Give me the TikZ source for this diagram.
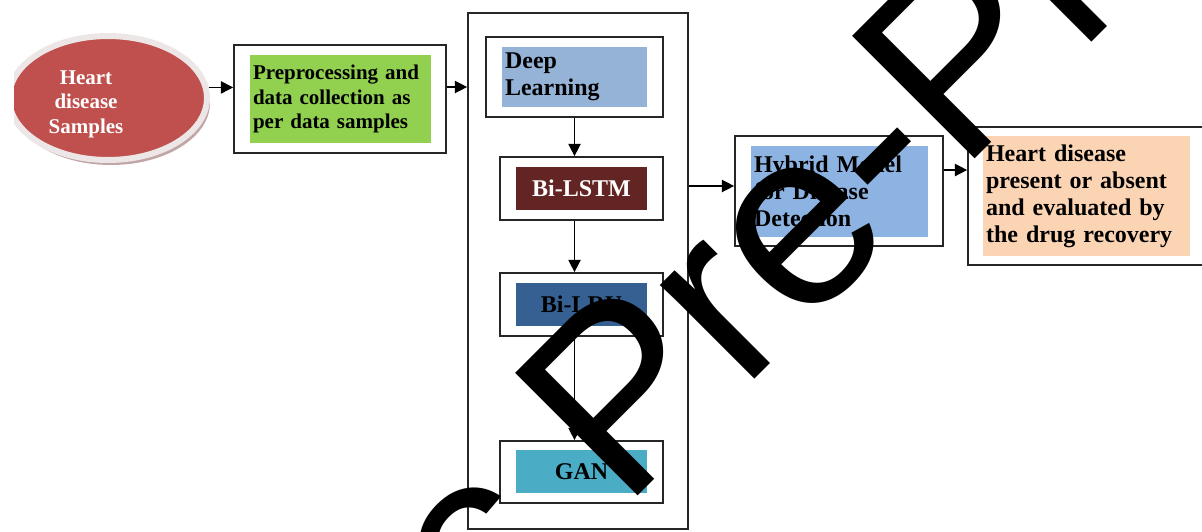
\documentclass[tikz,border=0pt]{standalone}
\usepackage{fontspec}
\setmainfont{Liberation Serif}
\newfontfamily\wmfont{Liberation Sans}
\usetikzlibrary{arrows.meta,shapes.geometric,shadows}
\definecolor{samplered}{HTML}{C0504D}
\definecolor{ringgray}{HTML}{ECE6E6}
\definecolor{shadowred}{HTML}{A88080}
\definecolor{prepgreen}{HTML}{92D050}
\definecolor{deepblue}{HTML}{95B3D7}
\definecolor{lstmred}{HTML}{632523}
\definecolor{lrublue}{HTML}{366092}
\definecolor{ganteal}{HTML}{4BACC6}
\definecolor{hybblue}{HTML}{8DB3E2}
\definecolor{respeach}{HTML}{FBD4B4}

\begin{document}
\begin{tikzpicture}[x=0.02cm,y=-0.02cm,
    box/.style={draw=black!85,line width=1pt,rectangle,inner sep=0pt},
    tag/.style={rectangle,inner sep=0.06cm,align=left,
        font=\bfseries\fontsize{13.66}{15.4}\selectfont},
    sample/.style={ellipse,fill=samplered,draw=ringgray,line width=0.12cm,
        minimum width=3.96cm,minimum height=2.48cm,
        drop shadow={shadow xshift=0.06cm,shadow yshift=-0.1cm,fill=shadowred,opacity=0.7}},
    arr/.style={draw,line width=0.8pt,-{Triangle[length=7pt,width=7pt]}}]
        \useasboundingbox (0,0) rectangle (1202,531);
        \clip (0,0) rectangle (1202,531);

        % input samples
        \begin{scope}
            \clip (14,0) rectangle (300,200);
            \node[sample] (s) at (108,98) {};
        \end{scope}
        \node[text=white,align=center,font=\bfseries\fontsize{11.95}{13.9}\selectfont] (st) at (86,104) {Heart\\disease\\Samples};

        % preprocessing
        \node[box,minimum width=4.24cm,minimum height=2.16cm] (pp) at (340,99) {};
        \node[tag,fill=prepgreen,minimum width=3.62cm,minimum height=1.76cm,text width=3.5cm,
            font=\bfseries\fontsize{11.95}{13.9}\selectfont] (ppt) at (340.5,99) {Preprocessing and\\data collection as\\per data samples};

        % deep learning block
        \node[box,minimum width=4.4cm,minimum height=10.32cm] (big) at (578,271) {};
        \node[box,minimum width=3.54cm,minimum height=1.6cm] (dlb) at (574.5,77) {};
        \node[tag,fill=deepblue,minimum width=2.9cm,minimum height=1.2cm,text width=2.78cm] (dl) at (574.5,77) {Deep\\Learning};
        \node[box,minimum width=3.26cm,minimum height=1.26cm] (lsb) at (581.5,188.5) {};
        \node[tag,fill=lstmred,text=white,minimum width=2.62cm,minimum height=0.86cm,align=center] (ls) at (581.5,188.5) {Bi-LSTM};
        \node[box,minimum width=3.26cm,minimum height=1.26cm] (lrb) at (581.5,304.5) {};
        \node[tag,fill=lrublue,minimum width=2.62cm,minimum height=0.86cm,align=center] (lr) at (581.5,304.5) {Bi-LRU};
        \node[box,minimum width=3.26cm,minimum height=1.24cm] (gnb) at (581.5,472) {};
        \node[tag,fill=ganteal,minimum width=2.62cm,minimum height=0.86cm,align=center] (gn) at (581.5,471.5) {GAN};

        % hybrid model and result
        \node[box,minimum width=4.16cm,minimum height=2.2cm] (hyb) at (839,191) {};
        \node[tag,fill=hybblue,minimum width=3.54cm,minimum height=1.82cm,text width=3.42cm] (hy) at (839.5,191.5) {Hybrid Model\\for Disease\\Detection};
        \node[box,minimum width=4.94cm,minimum height=2.76cm] (rsb) at (1091.5,196) {};
        \node[tag,fill=respeach,minimum width=4.14cm,minimum height=2.4cm,text width=4.02cm] (rs) at (1086.5,196) {Heart disease\\present or absent\\and evaluated by\\the drug recovery};

        \draw[arr] (s.6) -- (s.6 -| pp.west);
        \coordinate (pa) at ([yshift=0.24cm]pp.east);
        \draw[arr] (pa) -- (pa -| big.west);
        \draw[arr] (dlb.south) -- (dlb.south |- lsb.north);
        \draw[arr] (dlb.south |- lsb.south) -- (dlb.south |- lrb.north);
        \draw[arr] (dlb.south |- lrb.south) -- (dlb.south |- gnb.north);
        \coordinate (ha) at ([yshift=0.1cm]hyb.west);
        \draw[arr] (ha -| big.east) -- (ha);
        \coordinate (hb) at ([yshift=0.42cm]hyb.east);
        \draw[arr] (hb) -- (hb -| rsb.west);

        % watermark
        \node[rotate=45,anchor=base west,inner sep=0pt,font=\wmfont\fontsize{143.4}{150}\selectfont] (wm) at (485,649) {c Pre-Proof};
    \end{tikzpicture}
\end{document}
